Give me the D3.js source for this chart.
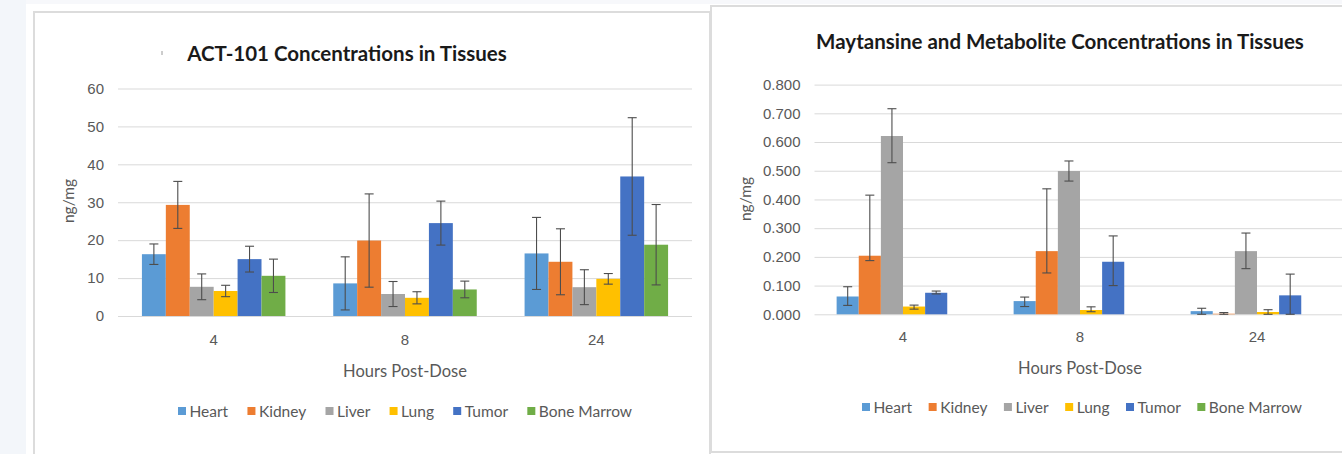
<!DOCTYPE html>
<html>
<head>
<meta charset="utf-8">
<script src="https://cdn.jsdelivr.net/npm/d3@7"></script>
<style>
  html, body { margin: 0; padding: 0; background: #ffffff; }
  svg { display: block; font-family: Lato, "Open Sans", sans-serif; }
</style>
</head>
<body>
<svg id="page" width="1342" height="454"></svg>
<script>
// Sampling times (hours post-dose) shared by both panels
const hours = ["4", "8", "24"];
const tissues = ["Heart", "Kidney", "Liver", "Lung", "Tumor", "Bone Marrow"];
const tissueColors = ["#5B9BD5", "#ED7D31", "#A5A5A5", "#FFC000", "#4472C4", "#70AD47"];

// ACT-101 concentrations (ng/mg), mean and SD per tissue at 4, 8, 24 h
const actHeart  = [16.3, 8.6, 16.5];
const actKidney = [29.3, 19.9, 14.3];
const actLiver  = [7.7, 5.8, 7.6];
const actLung   = [6.6, 4.8, 9.8];
const actTumor  = [15.0, 24.5, 36.8];
const actMarrow = [10.6, 7.0, 18.8];
const actHeartSd  = [2.7, 7.0, 9.5];
const actKidneySd = [6.2, 12.3, 8.7];
const actLiverSd  = [3.4, 3.3, 4.6];
const actLungSd   = [1.5, 1.6, 1.4];
const actTumorSd  = [3.4, 5.8, 15.5];
const actMarrowSd = [4.4, 2.2, 10.6];
const actTicks = [0, 10, 20, 30, 40, 50, 60];

// Maytansine + metabolite concentrations (ng/mg), with upper / lower error amounts
const mayHeart  = [0.062, 0.046, 0.011];
const mayKidney = [0.204, 0.220, 0.002];
const mayLiver  = [0.621, 0.499, 0.220];
const mayLung   = [0.027, 0.015, 0.008];
const mayTumor  = [0.075, 0.183, 0.066];
const mayMarrow = [null, null, null];
const mayHeartUp  = [0.034, 0.014, 0.010];
const mayKidneyUp = [0.211, 0.217, 0.004];
const mayLiverUp  = [0.095, 0.035, 0.063];
const mayLungUp   = [0.005, 0.011, 0.008];
const mayTumorUp  = [0.006, 0.090, 0.074];
const mayHeartDn  = [0.031, 0.019, 0.011];
const mayKidneyDn = [0.017, 0.076, 0.002];
const mayLiverDn  = [0.093, 0.035, 0.061];
const mayLungDn   = [0.009, 0.006, 0.008];
const mayTumorDn  = [0.004, 0.083, 0.066];
const mayTicks = [0, 0.1, 0.2, 0.3, 0.4, 0.5, 0.6, 0.7, 0.8];

const svg = d3.select("#page");

// page backdrop and the two card panels
svg.append("rect").attr("x", 0).attr("y", 0).attr("width", 1342).attr("height", 454).attr("fill", "#ffffff");
svg.append("rect").attr("x", 0).attr("y", 0).attr("width", 26).attr("height", 454).attr("fill", "#f3f6fa");
svg.append("rect").attr("x", 26).attr("y", 0).attr("width", 1316).attr("height", 4).attr("fill", "#f7f8fb");
svg.append("rect").attr("x", 34).attr("y", 12).attr("width", 676).attr("height", 452)
  .attr("fill", "#ffffff").attr("stroke", "#dcdcdc").attr("stroke-width", 2);
svg.append("rect").attr("x", 711).attr("y", 6).attr("width", 640).attr("height", 446)
  .attr("fill", "#ffffff").attr("stroke", "#dcdcdc").attr("stroke-width", 2);

function drawChart(cfg) {
  const g = svg.append("g");
  const x = d3.scaleBand().domain(hours).range([cfg.x0, cfg.x1]);
  const groupW = x.bandwidth() * 0.75;
  const xs = d3.scaleBand().domain(tissues).range([0, groupW]);
  const y = d3.scaleLinear().domain(cfg.domain).range([cfg.yBottom, cfg.yTop]);

  // horizontal gridlines and tick labels
  const yAxis = d3.axisLeft(y).tickValues(cfg.ticks).tickSize(-(cfg.x1 - cfg.x0)).tickPadding(cfg.tickPad)
    .tickFormat(cfg.fmt);
  const ya = g.append("g").attr("transform", `translate(${cfg.x0},0)`).call(yAxis);
  ya.select(".domain").remove();
  ya.selectAll(".tick line").attr("stroke", "#d9d9d9").attr("stroke-width", 1);
  ya.selectAll(".tick text").attr("fill", "#595959").style("font-size", "15px");

  // category labels
  const xAxis = d3.axisBottom(x).tickSize(0).tickPadding(cfg.catPad);
  const xa = g.append("g").attr("transform", `translate(0,${cfg.yBottom})`).call(xAxis);
  xa.select(".domain").remove();
  xa.selectAll(".tick text").attr("fill", "#595959").style("font-size", "15px");

  // bars
  cfg.series.forEach((s, i) => {
    const sg = g.append("g");
    hours.forEach((h, j) => {
      const v = s.values[j];
      if (v == null) return;
      const bx = x(h) + (x.bandwidth() - groupW) / 2 + xs(tissues[i]);
      sg.append("rect")
        .attr("x", bx).attr("width", xs.bandwidth())
        .attr("y", y(v)).attr("height", y(0) - y(v))
        .attr("fill", tissueColors[i]);
    });
  });

  // error bars
  cfg.series.forEach((s, i) => {
    if (!s.up) return;
    const eg = g.append("g").attr("stroke", "#4d4d4d").attr("stroke-width", 1.1);
    hours.forEach((h, j) => {
      const v = s.values[j];
      if (v == null) return;
      const cx = x(h) + (x.bandwidth() - groupW) / 2 + xs(tissues[i]) + xs.bandwidth() / 2;
      const hi = y(v + s.up[j]);
      const lo = y(Math.max(0, v - s.dn[j]));
      eg.append("line").attr("x1", cx).attr("x2", cx).attr("y1", hi).attr("y2", lo);
      eg.append("line").attr("x1", cx - 4.5).attr("x2", cx + 4.5).attr("y1", hi).attr("y2", hi);
      eg.append("line").attr("x1", cx - 4.5).attr("x2", cx + 4.5).attr("y1", lo).attr("y2", lo);
    });
  });

  // titles
  g.append("text").attr("x", cfg.titleX).attr("y", cfg.titleY).attr("text-anchor", "middle")
    .attr("dominant-baseline", "central")
    .attr("fill", "#1a1a1a").style("font-size", "20.5px").style("font-weight", "bold").text(cfg.title);
  g.append("text").attr("x", (cfg.x0 + cfg.x1) / 2).attr("y", cfg.xTitleY).attr("text-anchor", "middle")
    .attr("dominant-baseline", "central")
    .attr("fill", "#595959").style("font-size", "16.5px").text("Hours Post-Dose");
  g.append("text").attr("transform", `translate(${cfg.yTitleX},${cfg.yTitleY}) rotate(-90)`)
    .attr("text-anchor", "middle").attr("dominant-baseline", "central")
    .attr("fill", "#595959").style("font-size", "15.5px").text("ng/mg");

  // legend, spread between its two end points
  const lg = g.append("g").attr("transform", `translate(0,${cfg.legendY})`);
  const items = tissues.map((t, i) => {
    const it = lg.append("g");
    it.append("rect").attr("x", 0).attr("y", -4).attr("width", 8).attr("height", 8).attr("fill", tissueColors[i]);
    const tx = it.append("text").attr("x", 11.5).attr("y", 0).attr("dominant-baseline", "central")
      .attr("fill", "#595959").style("font-size", "15.5px").text(t);
    return { it, w: 11.5 + tx.node().getComputedTextLength() };
  });
  const sumW = d3.sum(items, d => d.w);
  const gap = (cfg.legendX1 - cfg.legendX0 - sumW) / (items.length - 1);
  let cursor = cfg.legendX0;
  items.forEach(d => { d.it.attr("transform", `translate(${cursor},0)`); cursor += d.w + gap; });
}

drawChart({
  x0: 118, x1: 692, yTop: 88.5, yBottom: 316, domain: [0, 60], ticks: actTicks,
  fmt: d3.format("d"), tickPad: 14, catPad: 18,
  title: "ACT-101 Concentrations in Tissues", titleX: 347, titleY: 53,
  xTitleY: 371, yTitleX: 68, yTitleY: 201,
  legendX0: 178, legendX1: 632, legendY: 411,
  series: [
    { values: actHeart,  up: actHeartSd,  dn: actHeartSd },
    { values: actKidney, up: actKidneySd, dn: actKidneySd },
    { values: actLiver,  up: actLiverSd,  dn: actLiverSd },
    { values: actLung,   up: actLungSd,   dn: actLungSd },
    { values: actTumor,  up: actTumorSd,  dn: actTumorSd },
    { values: actMarrow, up: actMarrowSd, dn: actMarrowSd }
  ]
});

drawChart({
  x0: 814.5, x1: 1345.5, yTop: 84.6, yBottom: 314.3, domain: [0, 0.8], ticks: mayTicks,
  fmt: d3.format(".3f"), tickPad: 14, catPad: 17,
  title: "Maytansine and Metabolite Concentrations in Tissues", titleX: 1060, titleY: 41,
  xTitleY: 368, yTitleX: 745, yTitleY: 199,
  legendX0: 862, legendX1: 1302, legendY: 407,
  series: [
    { values: mayHeart,  up: mayHeartUp,  dn: mayHeartDn },
    { values: mayKidney, up: mayKidneyUp, dn: mayKidneyDn },
    { values: mayLiver,  up: mayLiverUp,  dn: mayLiverDn },
    { values: mayLung,   up: mayLungUp,   dn: mayLungDn },
    { values: mayTumor,  up: mayTumorUp,  dn: mayTumorDn },
    { values: mayMarrow }
  ]
});

// small tick mark left of the first title
svg.append("line").attr("x1", 162).attr("x2", 162).attr("y1", 51).attr("y2", 55)
  .attr("stroke", "#9a9a9a").attr("stroke-width", 1);
</script>
</body>
</html>
